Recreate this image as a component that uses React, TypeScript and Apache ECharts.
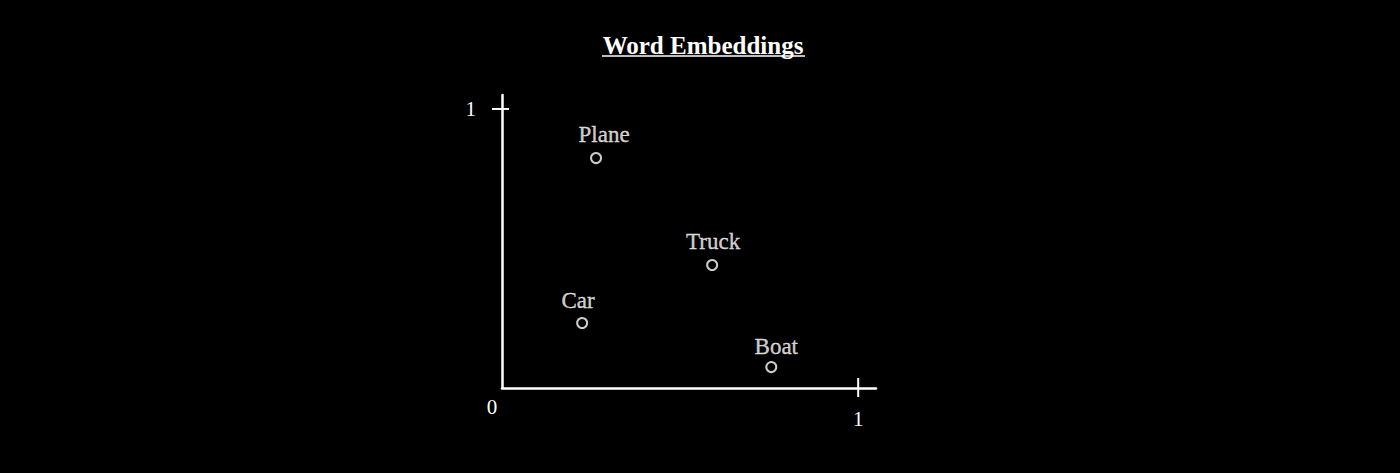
import React, { useEffect, useRef } from "react";
import * as echarts from "echarts";

const words = ["Plane", "Truck", "Car", "Boat"];
const xValues = [0.264, 0.59, 0.225, 0.756];
const yValues = [0.824, 0.441, 0.233, 0.075];
const tickValues = [1];
const titleText = "Word Embeddings";

const FONT = "'Liberation Serif', 'Times New Roman', serif";
const TEXT_COLOR = "#ffffff";
const labelOffsets = [
  [8, 0],
  [1, 0],
  [-4, 1],
  [5, 3],
];

export default function App() {
  const ref = useRef<HTMLDivElement>(null);
  useEffect(() => {
    document.body.style.margin = "0";
    document.body.style.background = "#000";
    const chart = echarts.init(ref.current!, undefined, { renderer: "svg" });
    const points = words.map((w, i) => ({
      name: w,
      value: [xValues[i], yValues[i]],
      label: { offset: labelOffsets[i] },
    }));
    const ticks: any[] = [];
    tickValues.forEach((v) => {
      ticks.push(["x", v]);
      ticks.push(["y", v]);
    });
    chart.setOption({
      animation: false,
      backgroundColor: "#000",
      title: {
        text: titleText,
        left: 698,
        textAlign: "center",
        top: 28,
        textStyle: { color: TEXT_COLOR, fontFamily: FONT, fontSize: 25, fontWeight: "bold" },
      },
      graphic: [
        {
          type: "line",
          shape: { x1: 602, y1: 56, x2: 805, y2: 56 },
          style: { stroke: TEXT_COLOR, lineWidth: 1.5 },
        },
        {
          type: "text",
          x: 492,
          y: 407,
          style: {
            text: "0",
            fill: TEXT_COLOR,
            font: `21px ${FONT}`,
            align: "center",
            verticalAlign: "middle",
          },
        },
      ],
      grid: { left: 502, right: 524, top: 95, bottom: 85, containLabel: false },
      xAxis: {
        type: "value",
        min: 0,
        max: 1.05,
        axisLine: { show: true, onZero: false, lineStyle: { color: "#fff", width: 2.5 } },
        axisTick: { show: false },
        splitLine: { show: false },
        axisLabel: {
          customValues: tickValues,
          color: TEXT_COLOR,
          fontFamily: FONT,
          fontSize: 21,
          margin: 20,
        },
      },
      yAxis: {
        type: "value",
        min: 0,
        max: 1.05,
        axisLine: { show: true, onZero: false, lineStyle: { color: "#fff", width: 2.5 } },
        axisTick: { show: false },
        splitLine: { show: false },
        axisLabel: {
          customValues: tickValues,
          color: TEXT_COLOR,
          fontFamily: FONT,
          fontSize: 21,
          margin: 26,
        },
      },
      series: [
        {
          type: "scatter",
          data: points,
          symbol: "circle",
          symbolSize: 10,
          itemStyle: { color: "#000", borderColor: "#fff", borderWidth: 2 },
          label: {
            show: true,
            position: "top",
            distance: 6,
            formatter: "{b}",
            color: TEXT_COLOR,
            fontFamily: FONT,
            fontSize: 23,
            textBorderColor: "#ffffff",
            textBorderWidth: 0.3,
          },
          emphasis: { disabled: true },
          z: 3,
        },
        {
          type: "custom",
          clip: false,
          silent: true,
          data: ticks,
          encode: { x: -1, y: -1 },
          renderItem: (params: any, api: any) => {
            const dim = api.value(0);
            const v = api.value(1);
            let x1, y1, x2, y2;
            if (dim === "x" || dim === 0) {
              const p = api.coord([v, 0]);
              x1 = p[0]; x2 = p[0]; y1 = p[1] - 10; y2 = p[1] + 9;
            } else {
              const p = api.coord([0, v]);
              x1 = p[0] - 10; x2 = p[0] + 7; y1 = p[1]; y2 = p[1];
            }
            return {
              type: "line",
              shape: { x1, y1, x2, y2 },
              style: { stroke: "#fff", lineWidth: 2 },
            };
          },
        },
      ],
    });
    return () => chart.dispose();
  }, []);
  return <div ref={ref} style={{ position: "fixed", left: 0, top: 0, width: 1400, height: 473 }} />;
}
